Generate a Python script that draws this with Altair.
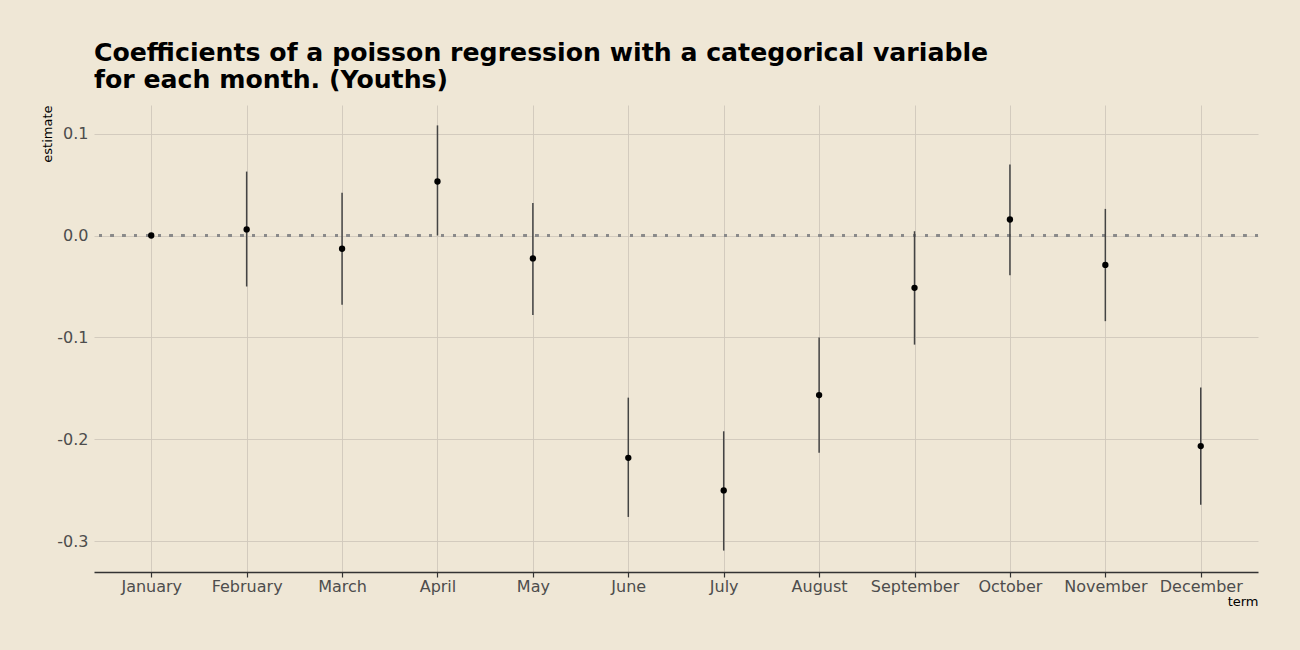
import altair as alt
import pandas as pd

months = ["January", "February", "March", "April", "May", "June", "July",
          "August", "September", "October", "November", "December"]
estimate = [0.0, 0.006, -0.013, 0.053, -0.0225, -0.218, -0.250, -0.1565,
            -0.0513, 0.0157, -0.0288, -0.2065]
low = [None, -0.050, -0.068, 0.0, -0.078, -0.276, -0.309, -0.213,
       -0.107, -0.039, -0.084, -0.264]
high = [None, 0.0627, 0.042, 0.108, 0.032, -0.159, -0.192, -0.100,
        0.0042, 0.0696, 0.0261, -0.149]
y_ticks = [-0.3, -0.2, -0.1, 0.0, 0.1]

df = pd.DataFrame({"term": months, "estimate": estimate, "low": low, "high": high})

BG = "#EFE7D6"
GRID = "#CFC7BB"

x = alt.X("term:N", sort=months, title="term",
          scale=alt.Scale(type="point", padding=0.6),
          axis=alt.Axis(labelAngle=0, labelFontSize=16, labelColor="#4D4D4D",
                        labelFont="DejaVu Sans", labelPadding=1,
                        tickSize=5, tickColor="#333333", tickWidth=1.2,
                        domainColor="#333333", domainWidth=1.6,
                        grid=True, gridColor=GRID, gridWidth=0.9,
                        titleFontSize=13, titleFontWeight="normal",
                        titleFont="DejaVu Sans", titleColor="#000000",
                        titleAnchor="end", titleAlign="right",
                        titleBaseline="middle", titleX=1164, titleY=29))

yscale = alt.Scale(domain=[-0.330, 0.128], nice=False, zero=False)
yaxis = alt.Axis(values=y_ticks, labelFontSize=16, labelColor="#4D4D4D",
                 labelFont="DejaVu Sans", labelPadding=6,
                 labelExpr="replace(format(datum.value, '.1f'), '\u2212', '-')",
                 ticks=False, domain=False, grid=True, gridColor=GRID,
                 gridWidth=0.9, titleFontSize=13, titleFontWeight="normal",
                 titleFont="DejaVu Sans", titleColor="#000000",
                 titleAngle=270, titleAlign="right", titleBaseline="middle",
                 titleX=-47, titleY=0)

base = alt.Chart(df)

zero = base.mark_rule(color="#8A8A8A", strokeWidth=2.6,
                      strokeDash=[2.6, 9.2], strokeCap="butt").encode(
    y=alt.datum(0, scale=yscale, axis=yaxis, title="estimate")
)

bars = base.transform_filter("isValid(datum.low)").mark_rule(
    color="#444444", strokeWidth=1.5).encode(
    x=x,
    y=alt.Y("low:Q", scale=yscale, axis=yaxis, title="estimate"),
    y2="high:Q",
)

points = base.mark_circle(color="#000000", size=40, opacity=1).encode(
    x=x,
    y=alt.Y("estimate:Q", scale=yscale, axis=yaxis, title="estimate"),
)

chart = alt.layer(zero, bars, points).properties(
    width=1164, height=467,
    title=alt.Title(
        ["Coefficients of a poisson regression with a categorical variable",
         "for each month. (Youths)"],
        anchor="start", frame="group", fontSize=25.2, font="DejaVu Sans",
        fontWeight="bold", color="#000000", lineHeight=27, offset=12),
    background=BG,
    padding={"left": 94, "top": 105, "right": 42, "bottom": 78},
    autosize=alt.AutoSizeParams(type="none"),
).configure_view(stroke=None, fill=BG)

chart.save("out.html", embed_options={"renderer": "svg", "actions": False})
